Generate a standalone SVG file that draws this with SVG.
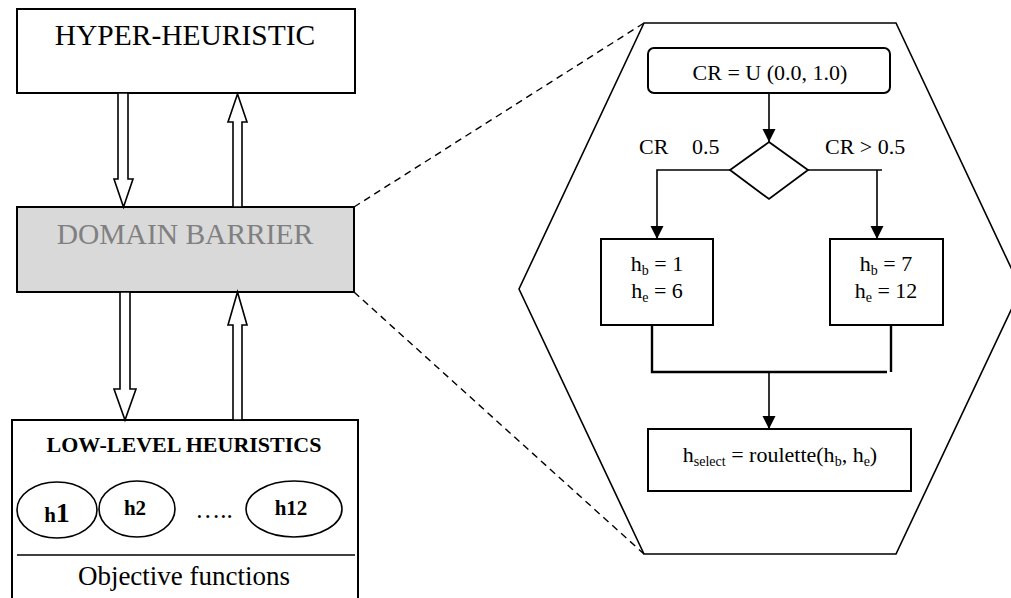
<svg xmlns="http://www.w3.org/2000/svg" width="1011" height="598" viewBox="0 0 1011 598">
<style>
.t{font-family:"Liberation Serif","Times New Roman",serif;fill:#000}
.box{fill:#fff;stroke:#000;stroke-width:2}
.hol{fill:#fff;stroke:#000;stroke-width:1.6;stroke-linejoin:miter}
.ln{fill:none;stroke:#000;stroke-width:1.6}
.ln2{fill:none;stroke:#000;stroke-width:2.4}
.dash{fill:none;stroke:#000;stroke-width:1.4;stroke-dasharray:7,5}
.sub{font-size:14px}
</style>
<defs>
<marker id="ah" markerWidth="13" markerHeight="14" refX="13" refY="6.5" orient="auto" markerUnits="userSpaceOnUse">
<path d="M0,0 L13,6.5 L0,13 Z" fill="#000"/>
</marker>
</defs>
<rect width="1011" height="598" fill="#fff"/>

<g id="hyper-heuristic">
<rect class="box" x="17" y="9" width="338" height="84"/>
<text class="t" x="185" y="45" font-size="29.5" text-anchor="middle">HYPER-HEURISTIC</text>
</g>

<g id="domain-barrier">
<rect x="17" y="207" width="337" height="85" fill="#d9d9d9" stroke="#000" stroke-width="2"/>
<text class="t" x="185" y="244" font-size="29.5" text-anchor="middle" style="fill:#808080">DOMAIN BARRIER</text>
</g>

<g id="low-level-heuristics">
<rect class="box" x="12" y="420" width="346" height="200"/>
<text class="t" x="184" y="452" font-size="22" font-weight="bold" text-anchor="middle">LOW-LEVEL HEURISTICS</text>
<line class="ln" x1="17" y1="555" x2="355" y2="555"/>
<text class="t" x="184" y="585" font-size="27" text-anchor="middle">Objective functions</text>
</g>

<g id="h1">
<ellipse cx="57" cy="510" rx="40" ry="28" fill="none" stroke="#000" stroke-width="1.6"/>
<text class="t" x="57" y="522" text-anchor="middle" font-weight="bold"><tspan font-size="21">h</tspan><tspan font-size="28">1</tspan></text>
</g>
<g id="h2">
<ellipse cx="137" cy="509" rx="38" ry="28" fill="none" stroke="#000" stroke-width="1.6"/>
<text class="t" x="135" y="515" text-anchor="middle" font-weight="bold" font-size="21">h2</text>
</g>
<g id="dots">
<text class="t" x="214" y="518" text-anchor="middle" font-size="25">…..</text>
</g>
<g id="h12">
<ellipse cx="294" cy="509" rx="48" ry="28" fill="none" stroke="#000" stroke-width="1.6"/>
<text class="t" x="291" y="515" text-anchor="middle" font-weight="bold" font-size="21">h12</text>
</g>

<g id="zoom-hexagon">
<polygon points="644,23 896,23 1021,289 896,554 644,554 519,289" fill="none" stroke="#000" stroke-width="1.6"/>
</g>

<g id="cr-start">
<rect class="box" x="648" y="48" width="242" height="45" rx="6"/>
<text class="t" x="770" y="80" font-size="22" text-anchor="middle">CR = U (0.0, 1.0)</text>
</g>

<g id="decision">
<polygon points="769,142 808,170 769,199 730,170" fill="#fff" stroke="#000" stroke-width="1.8"/>
</g>

<g id="box-left">
<rect class="box" x="601" y="239" width="112" height="86"/>
<text class="t" x="657" y="271" font-size="22" text-anchor="middle">h<tspan class="sub" dy="4">b</tspan><tspan dy="-4"> = 1</tspan></text>
<text class="t" x="657" y="298" font-size="22" text-anchor="middle">h<tspan class="sub" dy="4">e</tspan><tspan dy="-4"> = 6</tspan></text>
</g>

<g id="box-right">
<rect class="box" x="830" y="239" width="113" height="86"/>
<text class="t" x="886" y="271" font-size="22" text-anchor="middle">h<tspan class="sub" dy="4">b</tspan><tspan dy="-4"> = 7</tspan></text>
<text class="t" x="886" y="298" font-size="22" text-anchor="middle">h<tspan class="sub" dy="4">e</tspan><tspan dy="-4"> = 12</tspan></text>
</g>

<g id="select-box">
<rect class="box" x="648" y="429" width="263" height="62"/>
<text class="t" x="780" y="462" font-size="22" text-anchor="middle">h<tspan class="sub" dy="4">select</tspan><tspan dy="-4"> = roulette(h</tspan><tspan class="sub" dy="4">b</tspan><tspan dy="-4">, h</tspan><tspan class="sub" dy="4">e</tspan><tspan dy="-4">)</tspan></text>
</g>

<g id="labels">
<text class="t" font-size="22"><tspan x="639" y="154">CR</tspan><tspan x="692" y="154">0.5</tspan></text>
<text class="t" x="825" y="154" font-size="22">CR &gt; 0.5</text>
</g>

<g id="connectors">
<polygon class="hol" points="118,93 128,93 128,179 133,179 123.5,207 114,179 118,179"/>
<polygon class="hol" points="233,207 242,207 242,122 247,122 237.5,94 228,122 233,122"/>
<polygon class="hol" points="120,292 130,292 130,389 136,389 125,420 114,389 120,389"/>
<polygon class="hol" points="233,420 242,420 242,325 247,325 237.5,292 228,325 233,325"/>
<line class="dash" x1="354" y1="207" x2="644" y2="23"/>
<line class="dash" x1="354" y1="292" x2="644" y2="554"/>
<line class="ln" x1="769" y1="93" x2="769" y2="142" marker-end="url(#ah)"/>
<polyline class="ln" points="730,170 657,170 657,239" marker-end="url(#ah)"/>
<polyline class="ln" points="808,170 882,170"/>
<line class="ln" x1="877" y1="170" x2="877" y2="239" marker-end="url(#ah)"/>
<polyline class="ln2" points="652,325 652,372 887,372"/>
<line class="ln2" x1="891" y1="325" x2="891" y2="372"/>
<line class="ln" x1="769" y1="372" x2="769" y2="429" marker-end="url(#ah)"/>
</g>
</svg>
